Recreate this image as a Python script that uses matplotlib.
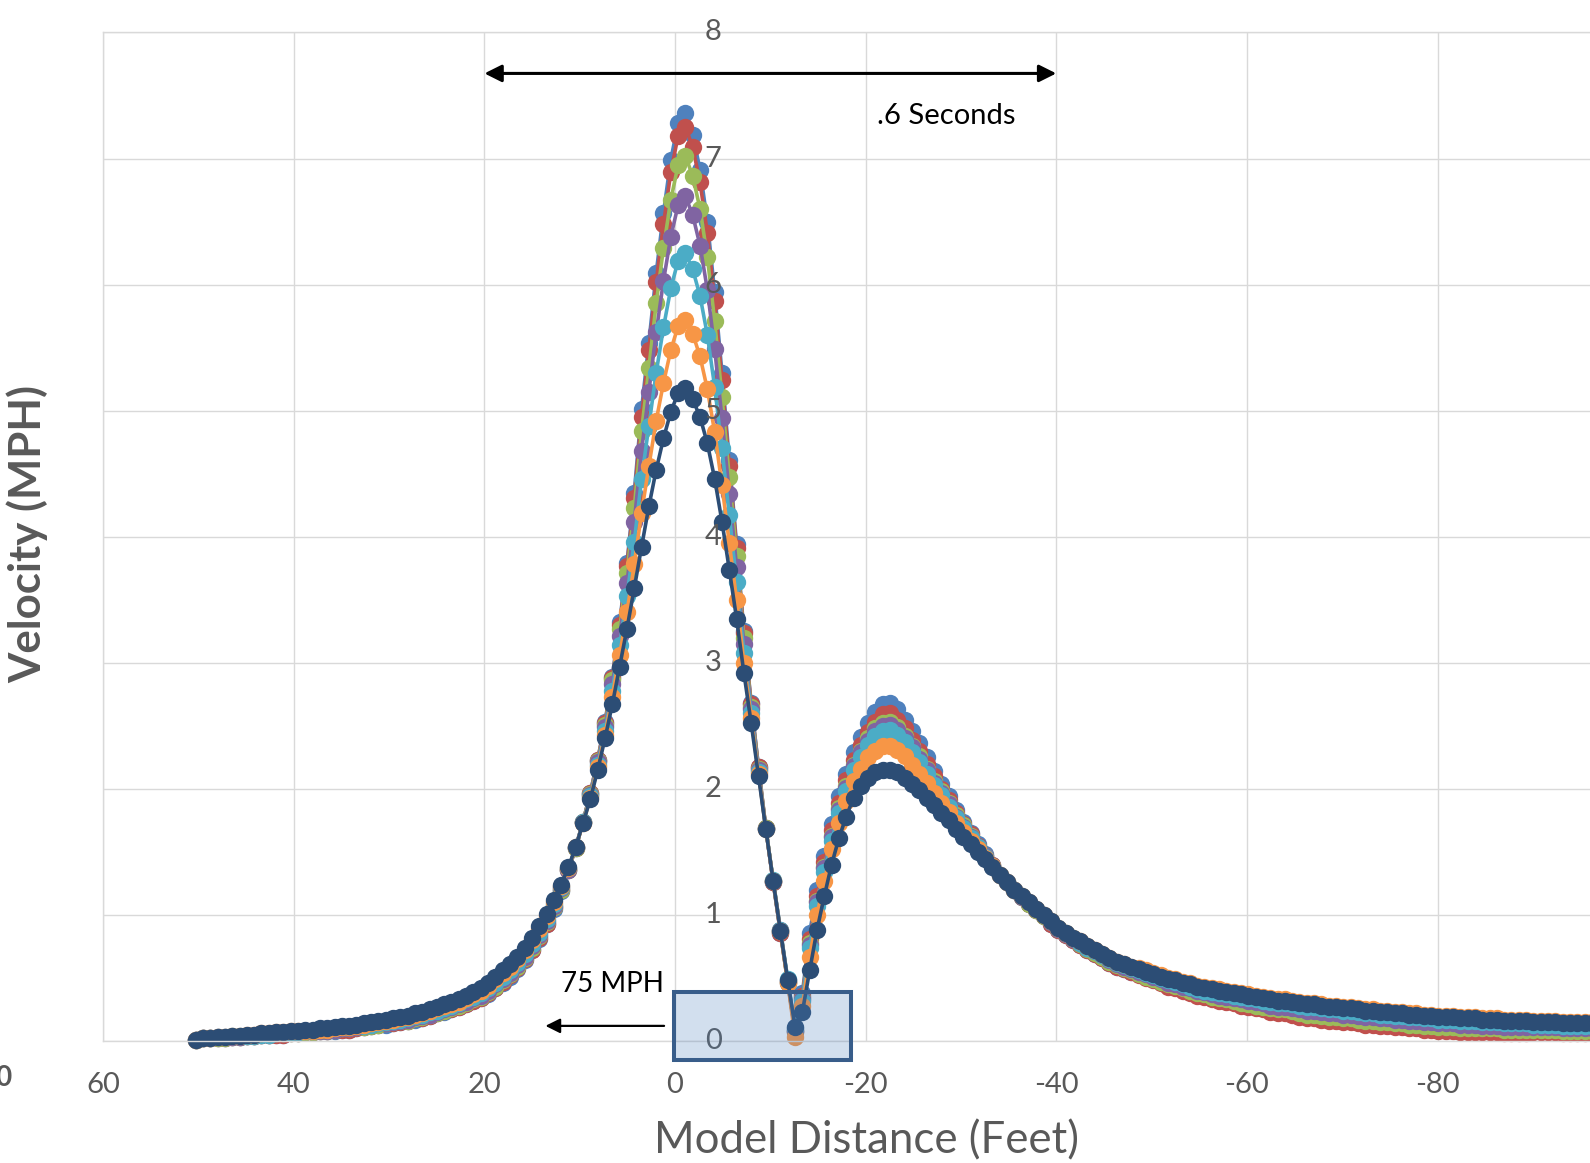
import numpy as np
import matplotlib.pyplot as plt
from matplotlib.patches import Rectangle

plt.rcParams['font.family'] = ['Lato', 'DejaVu Sans']

# sample positions: first sample at 50.3 ft, one sample every 0.767 ft
x_start = 50.3
x_step = 0.767

blue = [.01,.02,.02,.02,.02,.03,.03,.04,.04,.05,
        .05,.05,.05,.06,.06,.07,.07,.08,.08,.08,
        .09,.09,.10,.11,.12,.13,.13,.14,.15,.16,
        .17,.18,.20,.22,.23,.25,.27,.29,.32,.34,
        .37,.42,.46,.51,.57,.64,.72,.81,.93,1.05,
        1.19,1.36,1.53,1.74,1.97,2.23,2.53,2.89,3.32,3.79,
        4.35,5.01,5.54,6.09,6.57,6.99,7.28,7.36,7.19,6.91,
        6.50,5.94,5.30,4.61,3.94,3.25,2.68,2.17,1.69,1.26,
        .86,.46,.08,.38,.86,1.20,1.47,1.72,1.94,2.12,
        2.29,2.41,2.52,2.61,2.67,2.68,2.63,2.55,2.46,2.36,
        2.25,2.14,2.04,1.94,1.83,1.74,1.65,1.56,1.48,1.40,
        1.32,1.26,1.20,1.14,1.09,1.04,.99,.93,.88,.84,
        .80,.76,.72,.69,.66,.62,.59,.57,.55,.53,
        .51,.49,.47,.44,.43,.41,.39,.37,.36,.34,
        .33,.32,.31,.29,.28,.27,.26,.24,.23,.23,
        .22,.20,.19,.19,.18,.17,.17,.16,.16,.15,
        .14,.14,.13,.13,.12,.12,.11,.11,.10,.10,
        .09,.09,.09,.08,.08,.08,.08,.08,.08,.07,
        .07,.07,.07,.08,.08,.08,.08,.07,.07,.07,
        .07,.07]

red = [.01,.02,.02,.02,.02,.03,.03,.04,.04,.05,
       .05,.05,.05,.06,.06,.07,.07,.08,.08,.09,
       .09,.09,.10,.11,.12,.13,.14,.14,.15,.16,
       .18,.18,.20,.22,.24,.25,.27,.29,.32,.34,
       .38,.42,.47,.52,.58,.65,.72,.82,.93,1.06,
       1.20,1.36,1.53,1.74,1.97,2.23,2.52,2.88,3.30,3.77,
       4.31,4.95,5.48,6.02,6.48,6.89,7.18,7.25,7.09,6.81,
       6.41,5.87,5.24,4.56,3.91,3.24,2.67,2.17,1.69,1.26,
       .86,.47,.07,.36,.81,1.15,1.42,1.67,1.89,2.07,
       2.23,2.35,2.45,2.53,2.59,2.60,2.55,2.48,2.39,2.30,
       2.20,2.10,2.00,1.91,1.81,1.72,1.64,1.55,1.47,1.40,
       1.32,1.26,1.20,1.14,1.09,1.04,.99,.93,.88,.84,
       .80,.76,.72,.69,.66,.62,.59,.57,.55,.52,
       .50,.48,.46,.43,.42,.40,.38,.36,.35,.33,
       .32,.31,.30,.28,.27,.26,.25,.23,.22,.22,
       .21,.19,.18,.18,.17,.16,.16,.15,.15,.14,
       .13,.13,.12,.12,.11,.11,.10,.10,.09,.09,
       .08,.08,.08,.07,.07,.07,.07,.07,.07,.06,
       .06,.06,.06,.07,.07,.07,.07,.06,.06,.06,
       .06,.06]

green = [.01,.02,.02,.02,.02,.03,.03,.04,.04,.05,
         .05,.06,.06,.06,.06,.07,.07,.08,.08,.09,
         .10,.10,.11,.11,.12,.13,.14,.15,.16,.16,
         .18,.19,.21,.22,.24,.26,.28,.30,.33,.35,
         .39,.43,.48,.53,.59,.66,.74,.83,.94,1.06,
         1.20,1.36,1.53,1.74,1.96,2.22,2.51,2.86,3.27,3.71,
         4.23,4.84,5.34,5.85,6.29,6.67,6.95,7.02,6.86,6.60,
         6.22,5.71,5.11,4.47,3.85,3.20,2.65,2.16,1.69,1.27,
         .87,.47,.08,.34,.78,1.11,1.38,1.63,1.85,2.02,
         2.19,2.30,2.40,2.48,2.52,2.53,2.49,2.42,2.34,2.26,
         2.16,2.06,1.98,1.89,1.79,1.71,1.63,1.54,1.47,1.39,
         1.32,1.26,1.20,1.14,1.09,1.04,.99,.94,.89,.85,
         .81,.77,.73,.70,.67,.63,.60,.58,.56,.53,
         .51,.49,.47,.45,.44,.42,.40,.38,.37,.35,
         .34,.33,.32,.30,.29,.28,.27,.26,.25,.25,
         .24,.22,.21,.21,.20,.19,.19,.18,.18,.17,
         .16,.16,.15,.15,.14,.14,.13,.13,.12,.12,
         .11,.11,.11,.10,.10,.10,.10,.10,.10,.09,
         .09,.09,.09,.09,.09,.09,.09,.08,.08,.08,
         .08,.08]

purple = [.01,.02,.02,.03,.03,.03,.03,.04,.04,.05,
          .05,.06,.06,.07,.07,.08,.08,.08,.08,.09,
          .10,.10,.11,.12,.13,.14,.14,.15,.16,.17,
          .19,.20,.21,.23,.25,.27,.29,.31,.34,.36,
          .40,.45,.49,.54,.60,.67,.75,.84,.95,1.07,
          1.21,1.36,1.54,1.74,1.95,2.21,2.49,2.83,3.21,3.63,
          4.12,4.68,5.15,5.62,6.03,6.38,6.63,6.70,6.55,6.31,
          5.96,5.49,4.94,4.34,3.76,3.15,2.63,2.15,1.68,1.27,
          .88,.48,.09,.33,.76,1.10,1.37,1.62,1.83,2.01,
          2.18,2.29,2.38,2.46,2.50,2.51,2.47,2.40,2.33,2.24,
          2.15,2.05,1.97,1.88,1.78,1.70,1.62,1.54,1.47,1.39,
          1.32,1.26,1.20,1.14,1.10,1.05,1.00,.94,.89,.85,
          .81,.78,.74,.71,.68,.64,.61,.59,.57,.55,
          .53,.51,.49,.46,.45,.43,.42,.40,.39,.37,
          .36,.35,.34,.33,.32,.31,.30,.28,.27,.27,
          .26,.25,.24,.24,.23,.22,.22,.21,.21,.20,
          .19,.19,.18,.18,.17,.17,.16,.16,.15,.15,
          .14,.14,.14,.13,.13,.13,.12,.12,.12,.11,
          .11,.11,.11,.11,.11,.11,.11,.10,.10,.10,
          .10,.10]

teal = [.01,.02,.02,.03,.03,.04,.04,.04,.04,.05,
        .05,.06,.06,.07,.07,.08,.08,.09,.09,.10,
        .11,.11,.12,.12,.13,.14,.15,.16,.17,.18,
        .20,.21,.23,.24,.26,.28,.30,.33,.35,.38,
        .42,.46,.51,.56,.62,.69,.77,.86,.97,1.09,
        1.22,1.37,1.54,1.74,1.94,2.19,2.46,2.78,3.14,3.53,
        3.96,4.46,4.88,5.30,5.66,5.97,6.19,6.25,6.12,5.91,
        5.60,5.19,4.70,4.17,3.64,3.08,2.60,2.13,1.68,1.28,
        .88,.49,.10,.32,.74,1.07,1.34,1.59,1.81,1.98,
        2.15,2.25,2.35,2.42,2.46,2.47,2.43,2.37,2.29,2.21,
        2.12,2.03,1.95,1.86,1.77,1.69,1.61,1.54,1.46,1.39,
        1.32,1.26,1.20,1.15,1.10,1.05,1.00,.95,.90,.86,
        .82,.78,.74,.71,.68,.65,.62,.60,.58,.56,
        .54,.52,.50,.48,.47,.45,.43,.41,.40,.39,
        .38,.37,.36,.35,.34,.33,.32,.31,.30,.30,
        .29,.28,.27,.27,.26,.25,.25,.24,.24,.23,
        .22,.22,.21,.21,.20,.20,.19,.19,.18,.18,
        .17,.17,.17,.16,.16,.16,.15,.15,.15,.14,
        .14,.14,.14,.13,.13,.13,.13,.12,.12,.12,
        .12,.12]

orange = [.01,.02,.02,.03,.03,.04,.04,.05,.05,.06,
          .06,.07,.07,.08,.08,.08,.08,.09,.09,.10,
          .11,.11,.12,.13,.14,.15,.16,.17,.18,.19,
          .21,.22,.24,.26,.28,.29,.31,.34,.37,.40,
          .44,.49,.54,.59,.65,.72,.80,.89,.99,1.10,
          1.23,1.37,1.54,1.73,1.93,2.17,2.43,2.73,3.06,3.40,
          3.78,4.19,4.56,4.92,5.22,5.48,5.67,5.72,5.61,5.43,
          5.17,4.83,4.41,3.95,3.50,3.00,2.56,2.12,1.68,1.27,
          .87,.46,.03,.28,.67,1.00,1.27,1.52,1.73,1.90,
          2.06,2.16,2.25,2.30,2.34,2.34,2.31,2.26,2.19,2.12,
          2.05,1.97,1.89,1.82,1.73,1.66,1.59,1.52,1.45,1.39,
          1.32,1.26,1.20,1.15,1.10,1.05,1.00,.95,.90,.86,
          .82,.79,.75,.72,.69,.66,.63,.61,.59,.58,
          .56,.54,.52,.50,.49,.47,.46,.44,.43,.42,
          .41,.40,.39,.38,.37,.36,.35,.34,.33,.33,
          .32,.31,.30,.30,.29,.28,.28,.27,.27,.26,
          .25,.25,.24,.24,.23,.23,.22,.22,.21,.21,
          .20,.20,.20,.19,.19,.19,.18,.18,.18,.17,
          .17,.17,.17,.16,.16,.16,.16,.15,.15,.15,
          .15,.15]

dark_blue = [.01,.02,.02,.03,.03,.04,.04,.05,.05,.06,
             .06,.07,.07,.08,.08,.09,.09,.10,.10,.11,
             .12,.12,.13,.14,.15,.16,.17,.18,.19,.20,
             .22,.23,.25,.27,.29,.31,.33,.36,.39,.42,
             .46,.51,.56,.61,.67,.74,.82,.91,1.01,1.12,
             1.24,1.38,1.54,1.73,1.92,2.15,2.40,2.67,2.97,3.27,
             3.59,3.92,4.24,4.53,4.78,4.99,5.14,5.18,5.09,4.95,
             4.74,4.46,4.12,3.74,3.35,2.92,2.52,2.10,1.68,1.27,
             .87,.48,.11,.23,.56,.88,1.15,1.40,1.61,1.78,
             1.93,2.02,2.09,2.13,2.15,2.15,2.13,2.09,2.04,1.99,
             1.93,1.87,1.81,1.75,1.68,1.62,1.56,1.50,1.44,1.38,
             1.32,1.26,1.20,1.15,1.10,1.05,1.00,.95,.90,.86,
             .82,.79,.75,.72,.69,.66,.63,.61,.59,.57,
             .55,.53,.51,.49,.48,.46,.45,.43,.42,.41,
             .40,.39,.38,.37,.36,.35,.34,.33,.32,.32,
             .31,.30,.29,.29,.28,.27,.27,.26,.26,.25,
             .24,.24,.23,.23,.22,.22,.21,.21,.20,.20,
             .19,.19,.19,.18,.18,.18,.17,.17,.17,.16,
             .16,.16,.16,.15,.15,.15,.15,.14,.14,.14,
             .14,.14]

series = [
    (blue, '#4F81BD'),
    (red, '#C0504D'),
    (green, '#9BBB59'),
    (purple, '#8064A2'),
    (teal, '#4BACC6'),
    (orange, '#F79646'),
    (dark_blue, '#2C4D75'),
]

x_ticks = [60, 40, 20, 0, -20, -40, -60, -80]
y_ticks = [0, 1, 2, 3, 4, 5, 6, 7, 8]

grey = '#595959'
grid_col = '#d9d9d9'

fig = plt.figure(figsize=(15.9, 11.63), dpi=100)
ax = fig.add_axes([0.0649, 0.1049, 0.9351, 0.8672])

for vals, col in series:
    dist = x_start - x_step * np.arange(len(vals))
    ax.plot(dist, vals, color=col, lw=2.6, marker='o', ms=12.5,
            mec=col, mew=0, clip_on=False, zorder=2)

ax.set_xlim(60, -96.0)
ax.set_ylim(0, 8)

ax.set_xticks(x_ticks)
ax.set_xticklabels([str(v) for v in x_ticks])
ax.set_yticks(y_ticks)
ax.set_yticklabels([])
ax.tick_params(axis='both', length=0)
ax.tick_params(axis='x', labelsize=21, labelcolor=grey, pad=22)
ax.grid(True, color=grid_col, lw=1.0, zorder=0)
ax.set_axisbelow(True)

for side in ['top', 'left', 'bottom']:
    ax.spines[side].set_color(grid_col)
    ax.spines[side].set_linewidth(1.0)
ax.spines['right'].set_visible(False)

# y values written along the x = 0 line
for v in y_ticks:
    ax.text(-4.0, v, str(v), ha='center', va='center',
            fontsize=21, color=grey, zorder=4)

# .6 seconds span
ax.annotate('', xy=(-40, 7.675), xytext=(20, 7.675),
            arrowprops=dict(arrowstyle='<|-|>', color='black', lw=2.2,
                            mutation_scale=26, shrinkA=0, shrinkB=0),
            zorder=4)
ax.text(-21.2, 7.34, '.6 Seconds', ha='left', va='center',
        fontsize=21, color='black', zorder=4)

# vehicle box and direction
ax.add_patch(Rectangle((0.1, -0.15), -18.57, 0.54,
                       facecolor=(0.31, 0.506, 0.741, 0.25),
                       edgecolor='#385D8A', lw=2.9, zorder=5,
                       clip_on=False))
ax.annotate('', xy=(13.6, 0.12), xytext=(1.15, 0.12),
            arrowprops=dict(arrowstyle='-|>', color='black', lw=1.6,
                            mutation_scale=22, shrinkA=0, shrinkB=0),
            zorder=4)
ax.text(12.0, 0.45, '75 MPH', ha='left', va='center',
        fontsize=20, color='black', zorder=4)

fig.text(866 / 1590, 1 - 1141 / 1163, 'Model Distance (Feet)',
         ha='center', va='center', fontsize=31.5, color=grey)
fig.text(27.4 / 1590, 1 - 534 / 1163, 'Velocity (MPH)', rotation=90,
         ha='center', va='center', fontsize=31.5, color=grey,
         fontweight='bold')
fig.text(12 / 1590, 1 - 1078 / 1163, '0', ha='right', va='center',
         fontsize=20, color=grey, fontweight='bold')

fig.savefig('out.png', dpi=100)
